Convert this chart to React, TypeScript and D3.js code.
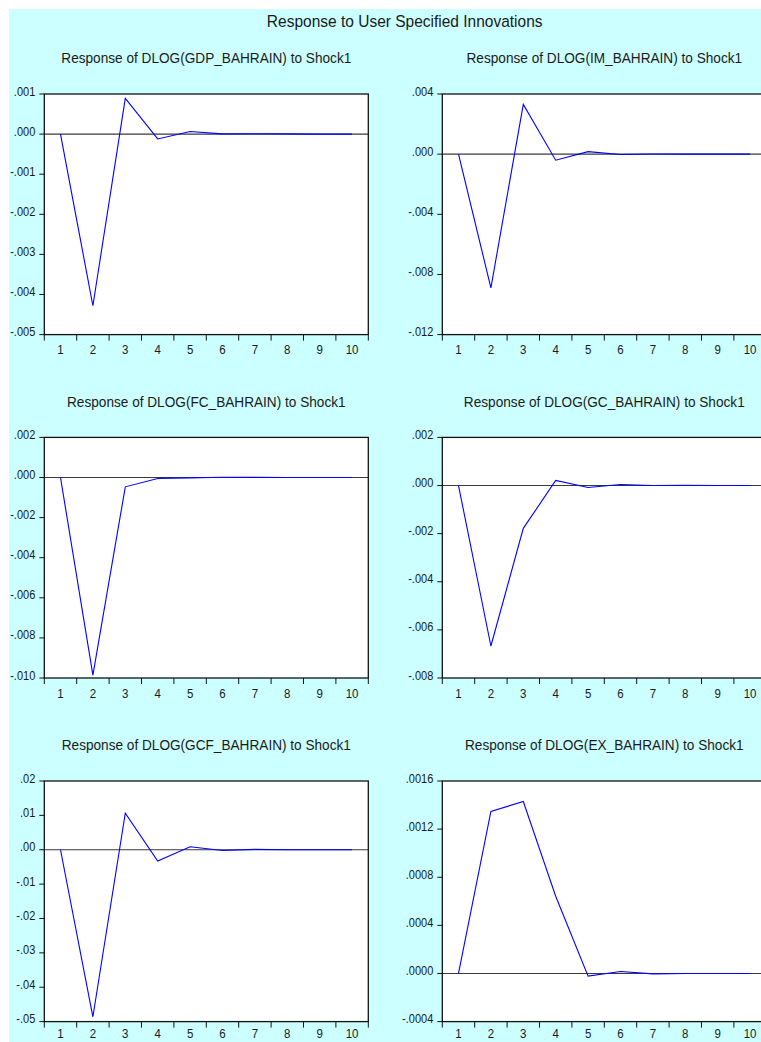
import React from "react";
import * as d3 from "d3";

// Impulse-response horizons
const periods = [1, 2, 3, 4, 5, 6, 7, 8, 9, 10];

// Responses to Shock1
const gdpResponse = [0, -0.00428, 0.00089, -0.00012, 0.000065, 0.000005, 0.00001, 0.000005, 0, 0];
const imResponse = [0, -0.00889, 0.00331, -0.0004, 0.00017, -0.00002, 0.00001, 0, 0, 0];
const fcResponse = [0, -0.00986, -0.000465, -0.00005, -0.00002, 0.00001, 0.000005, 0, 0, 0];
const gcResponse = [0, -0.00667, -0.00178, 0.00021, -0.00008, 0.00004, 0, 0.00001, 0, 0];
const gcfResponse = [0, -0.0486, 0.01065, -0.0033, 0.00087, -0.0002, 0.0001, 0, 0, 0];
const exResponse = [0, 0.001347, 0.00143, 0.000642, -0.000022, 0.000017, -0.000003, 0, 0, 0];

// Y tick values and their labels for each panel
const gdpTicks = [0.001, 0, -0.001, -0.002, -0.003, -0.004, -0.005];
const gdpTickLabels = [".001", ".000", "-.001", "-.002", "-.003", "-.004", "-.005"];
const imTicks = [0.004, 0, -0.004, -0.008, -0.012];
const imTickLabels = [".004", ".000", "-.004", "-.008", "-.012"];
const fcTicks = [0.002, 0, -0.002, -0.004, -0.006, -0.008, -0.01];
const fcTickLabels = [".002", ".000", "-.002", "-.004", "-.006", "-.008", "-.010"];
const gcTicks = [0.002, 0, -0.002, -0.004, -0.006, -0.008];
const gcTickLabels = [".002", ".000", "-.002", "-.004", "-.006", "-.008"];
const gcfTicks = [0.02, 0.01, 0, -0.01, -0.02, -0.03, -0.04, -0.05];
const gcfTickLabels = [".02", ".01", ".00", "-.01", "-.02", "-.03", "-.04", "-.05"];
const exTicks = [0.0016, 0.0012, 0.0008, 0.0004, 0, -0.0004];
const exTickLabels = [".0016", ".0012", ".0008", ".0004", ".0000", "-.0004"];

const panelTitles = [
  "Response of DLOG(GDP_BAHRAIN) to Shock1",
  "Response of DLOG(IM_BAHRAIN) to Shock1",
  "Response of DLOG(FC_BAHRAIN) to Shock1",
  "Response of DLOG(GC_BAHRAIN) to Shock1",
  "Response of DLOG(GCF_BAHRAIN) to Shock1",
  "Response of DLOG(EX_BAHRAIN) to Shock1",
];

const mainTitle = "Response to User Specified Innovations";

const panels = [
  { title: panelTitles[0], values: gdpResponse, ticks: gdpTicks, labels: gdpTickLabels },
  { title: panelTitles[1], values: imResponse, ticks: imTicks, labels: imTickLabels },
  { title: panelTitles[2], values: fcResponse, ticks: fcTicks, labels: fcTickLabels },
  { title: panelTitles[3], values: gcResponse, ticks: gcTicks, labels: gcTickLabels },
  { title: panelTitles[4], values: gcfResponse, ticks: gcfTicks, labels: gcfTickLabels },
  { title: panelTitles[5], values: exResponse, ticks: exTicks, labels: exTickLabels },
];

const W = 761;
const H = 1042;
const colLeft = [44.3, 442.3];
const rowTop = [94, 437.4, 781];
const plotW = 324;
const plotH = 240.6;
const FONT = "'Liberation Sans', Arial, Helvetica, sans-serif";
const TEXT = "#1a1a1a";

type PanelProps = {
  left: number;
  top: number;
  title: string;
  values: number[];
  ticks: number[];
  labels: string[];
};

function Panel({ left, top, title, values, ticks, labels }: PanelProps) {
  const right = left + plotW;
  const bottom = top + plotH;
  const x = d3
    .scaleBand<number>()
    .domain(periods)
    .range([left, right])
    .padding(0);
  const bw = x.bandwidth();
  const cx = (p: number) => (x(p) as number) + bw / 2;
  const y = d3
    .scaleLinear()
    .domain([d3.min(ticks) as number, d3.max(ticks) as number])
    .range([bottom, top]);

  const line = d3
    .line<number>()
    .x((_, i) => cx(periods[i]))
    .y((v) => y(v));

  const boundaries = periods.map((p) => x(p) as number).concat([right]);
  // keep the period labels inside the page for the lowest row
  const xLabelOffset = Math.min(19.7, H - 4 - bottom);

  return (
    <g>
      <text
        transform={`translate(${(left + right) / 2},${top - 30.8}) scale(0.94,1)`}
        textAnchor="middle"
        fontFamily={FONT}
        fontSize={14.5}
        fill={TEXT}
      >
        {title}
      </text>
      <rect x={left} y={top} width={plotW} height={plotH} fill="#ffffff" />
      {/* zero line */}
      <line x1={left} x2={right} y1={y(0)} y2={y(0)} stroke="#3a3a3a" strokeWidth={1.2} />
      {/* response path */}
      <path d={line(values) || ""} fill="none" stroke="#0000ff" strokeWidth={1.1} />
      {/* frame */}
      <rect x={left} y={top} width={plotW} height={plotH} fill="none" stroke="#111" strokeWidth={1.3} />
      {/* y ticks */}
      {ticks.map((t, i) => (
        <g key={`y${i}`}>
          <line x1={left - 5} x2={left} y1={y(t)} y2={y(t)} stroke="#111" strokeWidth={1} />
          <text
            transform={`translate(${left - 9},${y(t) + 1.5}) scale(0.92,1)`}
            textAnchor="end"
            fontFamily={FONT}
            fontSize={12}
            fill={TEXT}
          >
            {labels[i]}
          </text>
        </g>
      ))}
      {/* x ticks at period boundaries */}
      {boundaries.map((b, i) => (
        <line key={`xt${i}`} x1={b} x2={b} y1={bottom} y2={bottom + 6} stroke="#111" strokeWidth={1} />
      ))}
      {periods.map((p) => (
        <text
          key={`xl${p}`}
          transform={`translate(${cx(p)},${bottom + xLabelOffset}) scale(0.92,1)`}
          textAnchor="middle"
          fontFamily={FONT}
          fontSize={12.5}
          fill={TEXT}
        >
          {p}
        </text>
      ))}
    </g>
  );
}

export default function App() {
  return (
    <svg
      width={W}
      height={H}
      viewBox={`0 0 ${W} ${H}`}
      style={{ position: "absolute", left: 0, top: 0, display: "block" }}
    >
      <rect x={0} y={0} width={W} height={H} fill="#ffffff" />
      <rect x={9} y={9} width={W - 9} height={H - 9} fill="#ccffff" />
      <text
        transform={`translate(404.7,27.3) scale(0.94,1)`}
        textAnchor="middle"
        fontFamily={FONT}
        fontSize={16.5}
        fill={TEXT}
      >
        {mainTitle}
      </text>
      {panels.map((p, i) => (
        <Panel
          key={i}
          left={colLeft[i % 2]}
          top={rowTop[Math.floor(i / 2)]}
          title={p.title}
          values={p.values}
          ticks={p.ticks}
          labels={p.labels}
        />
      ))}
    </svg>
  );
}
